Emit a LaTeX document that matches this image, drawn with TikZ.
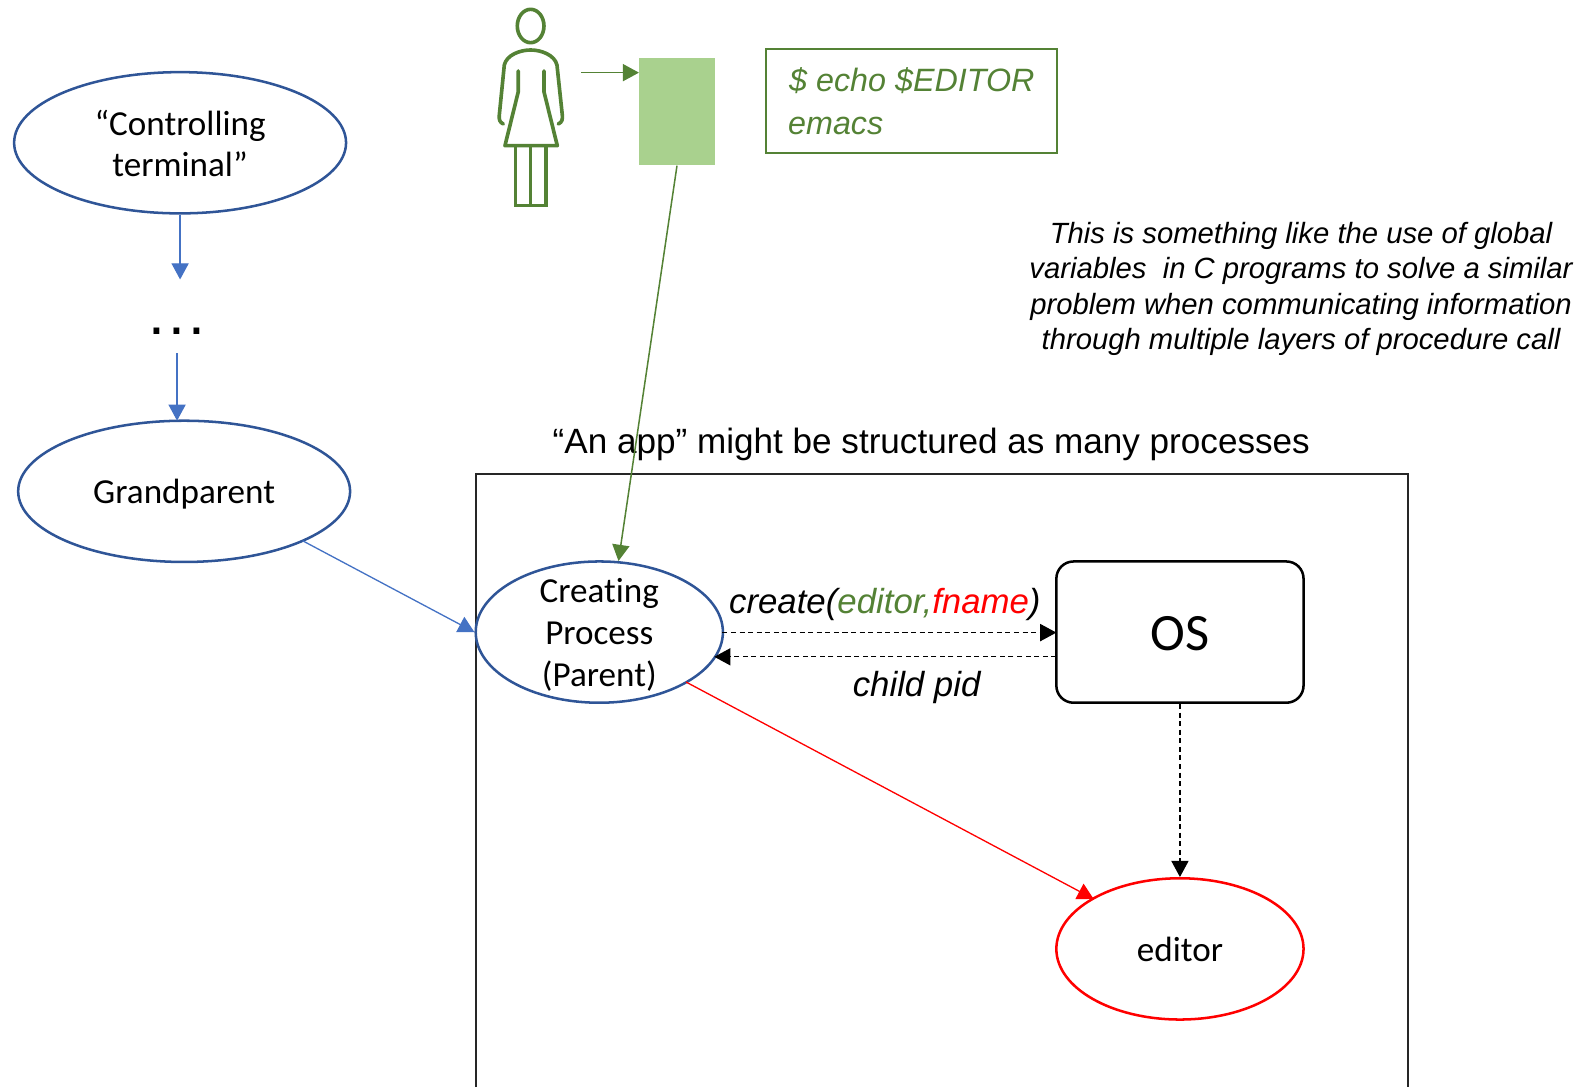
\documentclass[tikz,border=0pt]{standalone}
\usepackage{fontspec}
\setmainfont{Carlito}[Ligatures={NoCommon}]
\newfontfamily\arialf{Liberation Sans}
\usetikzlibrary{arrows.meta,shapes.geometric}
\definecolor{navy}{HTML}{2F5597}
\definecolor{blueln}{HTML}{4472C4}
\definecolor{grn}{HTML}{548235}
\definecolor{lgrn}{HTML}{A9D18E}
\tikzset{
  x=1pt,y=-1pt,
  proc/.style={ellipse,draw=navy,line width=2.5pt,minimum width=329pt,minimum height=140pt,inner sep=0pt},
  ptext/.style={inner sep=0pt,align=center,font=\fontsize{34.8}{41.5}\selectfont},
  tip/.style={-{Triangle[length=16pt,width=17pt]}},
  blueedge/.style={tip,draw=blueln,line width=1.3pt},
  grnedge/.style={tip,draw=grn,line width=1.5pt},
  dash edge/.style={tip,draw=black,line width=1.3pt,dash pattern=on 5pt off 3.5pt},
  lab/.style={inner sep=0pt,font=\arialf\itshape\fontsize{34.5}{34.5}\selectfont},
  cmdtext/.style={inner sep=0pt,text=grn,font=\arialf\itshape\fontsize{32}{32}\selectfont},
  person/.style={draw=grn,line width=3.6pt,line join=round,line cap=round}
}
\begin{document}
\begin{tikzpicture}
\useasboundingbox (0,0) rectangle (1568,1077.4);
% frame
\coordinate (fa) at (472,1077.4); \coordinate (fb) at (472,470); \coordinate (fc) at (1396,470); \coordinate (fd) at (1396,1077.4);
\draw[line width=2pt,draw=black!85] (fa) -- (fb) -- (fc) -- (fd);
% ellipses
\node[proc] (term) at (178.5,141.5) {};
\node[ptext] (termt) at (178.5,142) {“Controlling\\[-0.5pt]terminal”};
\node[proc] (gp) at (182.5,487) {};
\node[ptext] (gpt) at (182.5,490) {Grandparent};
\node[proc,minimum width=245pt] (cp) at (594,626.5) {};
\node[ptext] (cpt) at (594,629.5) {Creating\\Process\\(Parent)};
\node[proc,minimum width=245pt,draw=red] (ed) at (1169.5,940.5) {};
\node[ptext] (edt) at (1169.5,941.5) {editor};
\node[draw=black,line width=2.5pt,rounded corners=17pt,minimum width=245pt,minimum height=140pt,inner sep=0pt] (os) at (1169.5,626.5) {};
\node[inner sep=0pt,font=\fontsize{52}{52}\selectfont] (ost) at (1169.5,628.5) {OS};
% person
\begin{scope}[shift={(465.8,0)},x=0.3304pt,y=-0.3304pt]
  \draw[person] (182,78) ellipse [x radius=40,y radius=50];
  \draw[person] (100,372) .. controls (88,366) and (87,358) .. (88,345) -- (103,195) .. controls (110,165) and (150,150) .. (182,150) .. controls (214,150) and (254,165) .. (261,195) -- (277,345) .. controls (278,358) and (277,366) .. (265,372);
  \draw[person] (145,213) -- (145,275) -- (105,437) -- (262,437) -- (222,275) -- (222,213);
  \draw[person,line cap=butt,line join=miter] (137,437) -- (137,617) -- (228,617) -- (228,437);
  \draw[person,line cap=butt] (182,437) -- (182,617);
\end{scope}
\coordinate (pr) at (576,72);
\node[fill=lgrn,minimum width=75pt,minimum height=107pt,inner sep=0pt] (kb) at (671,110.5) {};
\node[draw=grn,line width=2pt,minimum width=289pt,minimum height=103pt,inner sep=0pt] (cmd) at (903.5,100.5) {};
\node[anchor=base west,cmdtext] (c1) at (782,90.5) {\$ echo \$EDITOR};
\node[anchor=base west,cmdtext] (c2) at (781,133) {emacs};
% note
\node[align=center,inner sep=0pt,font=\arialf\itshape\fontsize{29}{35.2}\selectfont] (note) at (1289.5,286.5) {This is something like the use of global\\variables\ \ in C programs to solve a similar\\problem when communicating information\\through multiple layers of procedure call};
\node[inner sep=0pt,anchor=base,font=\arialf\fontsize{34.8}{34.8}\selectfont] (title) at (923,449) {“An app” might be structured as many processes};
% dots
\node[inner sep=0pt,anchor=base,font=\arialf\fontsize{60}{60}\selectfont] (dots) at (175.5,332) {.\kern3.3pt.\kern3.3pt.};
% labels
\node[lab,anchor=base] (create) at (877,608) {create(\textcolor{grn}{editor,}\textcolor{red}{fname})};
\node[lab,anchor=base] (pid) at (908.5,690.5) {child pid};
% connectors
\draw[blueedge] (term.south) -- (178.5,277);
\coordinate (d1) at (175.5,350);
\draw[blueedge] (d1) -- (175.5,417);
\coordinate (g1) at (300,536);
\draw[blueedge] (g1) -- (cp.west);
\draw[grnedge] (pr) -- (kb.west |- pr);
\draw[grnedge] (kb.south) -- (613,556);
\coordinate (c1s) at (716,627); \coordinate (c1e) at (1047,627);
\draw[dash edge] (c1s) -- (c1e);
\coordinate (c2s) at (1047,651); \coordinate (c2e) at (708,651);
\draw[dash edge] (c2s) -- (c2e);
\draw[dash edge] (os.south) -- (ed.north);
\coordinate (r1) at (680,676);
\draw[tip,draw=red,line width=1.3pt] (r1) -- (1084,891);
\end{tikzpicture}
\end{document}
